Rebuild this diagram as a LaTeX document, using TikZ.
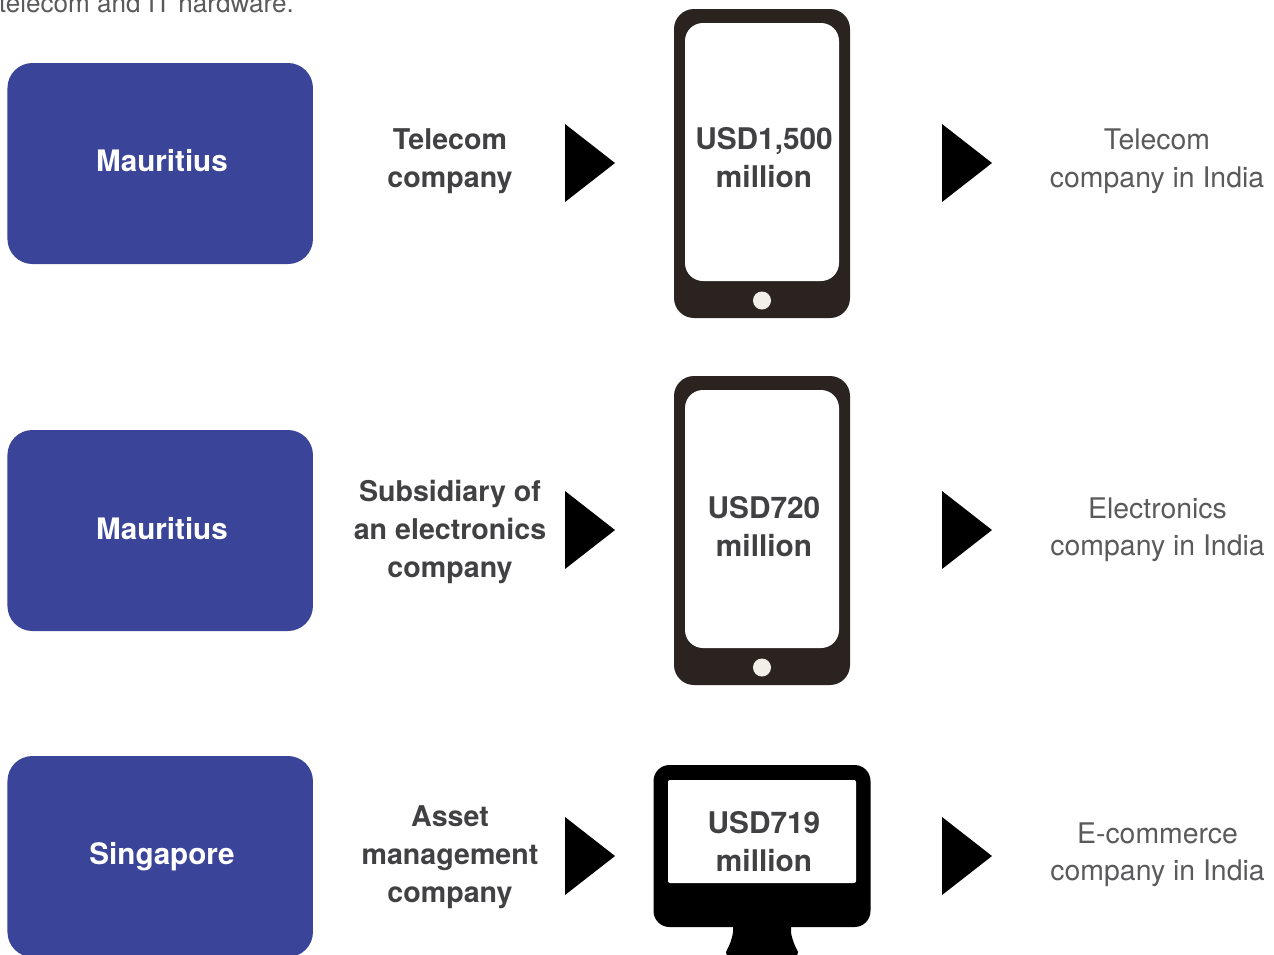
\documentclass[tikz,border=0pt]{standalone}
\usepackage{fontspec}
\setmainfont{TeX Gyre Heros}
\definecolor{boxblue}{HTML}{3A4498}
\definecolor{phonedark}{HTML}{2A2320}
\definecolor{btncream}{HTML}{F2EFE9}
\definecolor{txtdark}{HTML}{414042}
\definecolor{txtgrey}{HTML}{5A5A5C}
\tikzset{
  bluebox/.style={fill=boxblue,rounded corners=25pt,minimum width=305.5pt,minimum height=201pt,inner sep=0pt},
  countrytxt/.style={text=white,font=\fontsize{29.6}{38}\selectfont\bfseries,inner sep=0pt},
  boldtxt/.style={text=txtdark,align=center,font=\fontsize{28.6}{38}\selectfont\bfseries,inner sep=0pt},
  amounttxt/.style={boldtxt,font=\fontsize{29.8}{38}\selectfont\bfseries},
  lighttxt/.style={text=txtgrey,align=center,font=\fontsize{28.4}{37.5}\selectfont,inner sep=0pt},
}
\begin{document}
\begin{tikzpicture}[x=1pt,y=-1pt]
        \useasboundingbox (0,0) rectangle (1274,954);
        \clip (0,0) rectangle (1274,954);
        % texto cortado arriba
        \node [lighttxt,font=\fontsize{26.1}{28}\selectfont,anchor=base east] (intro) at (294,12) {telecom and IT hardware.};
        % cajas azules
        \node [bluebox] (box1) at (160.2,163.5) {};
        \node [bluebox] (box2) at (160.2,530.5) {};
        \node [bluebox] (box3) at (160.2,856.5) {};
        \node [countrytxt] (name1) at (162,161) {Mauritius};
        \node [countrytxt] (name2) at (162,529) {Mauritius};
        \node [countrytxt] (name3) at (162,857) {Singapore};
        % tipo de empresa
        \node [boldtxt] (kind1) at (450,161.5) {Telecom\\company};
        \node [boldtxt] (kind2) at (450,531.5) {Subsidiary of\\an electronics\\company};
        \node [boldtxt] (kind3) at (450,857.5) {Asset\\management\\company};
        % flechas
        \foreach \x/\y in {565/163,565/530,565/856,942/163,942/530,942/856}
        \fill (\x,\y-39) -- (\x+50,\y) -- (\x,\y+39) -- cycle;
        % telefonos
        \foreach \y in {0,367} {
        \fill[phonedark,rounded corners=20pt] (674,9+\y) rectangle (850,318+\y);
        \fill[white,rounded corners=18pt] (685,23+\y) rectangle (839,281+\y);
        \fill[btncream] (762,300.5+\y) circle [radius=9];
        }
        % monitor
        \fill[rounded corners=16pt] (653.5,765) rectangle (870.5,927);
        \fill[white,rounded corners=2pt] (668,780) rectangle (856,883);
        \fill (733,925) -- (733,932) .. controls (732,940) and (729,946) .. (726,952) -- (727,956) -- (797,956) -- (798,952) .. controls (795,946) and (792,940) .. (791,932) -- (791,925) -- cycle;
        % montos
        \node [amounttxt] (amount1) at (764,158) {USD1,500\\million};
        \node [amounttxt] (amount2) at (764,527) {USD720\\million};
        \node [amounttxt] (amount3) at (764,841.5) {USD719\\million};
        % destino
        \node [lighttxt] (dest1) at (1157,161) {Telecom\\company in India};
        \node [lighttxt] (dest2) at (1157.5,529.5) {Electronics\\company in India};
        \node [lighttxt] (dest3) at (1157.5,854.5) {E-commerce\\company in India};
\end{tikzpicture}
\end{document}
